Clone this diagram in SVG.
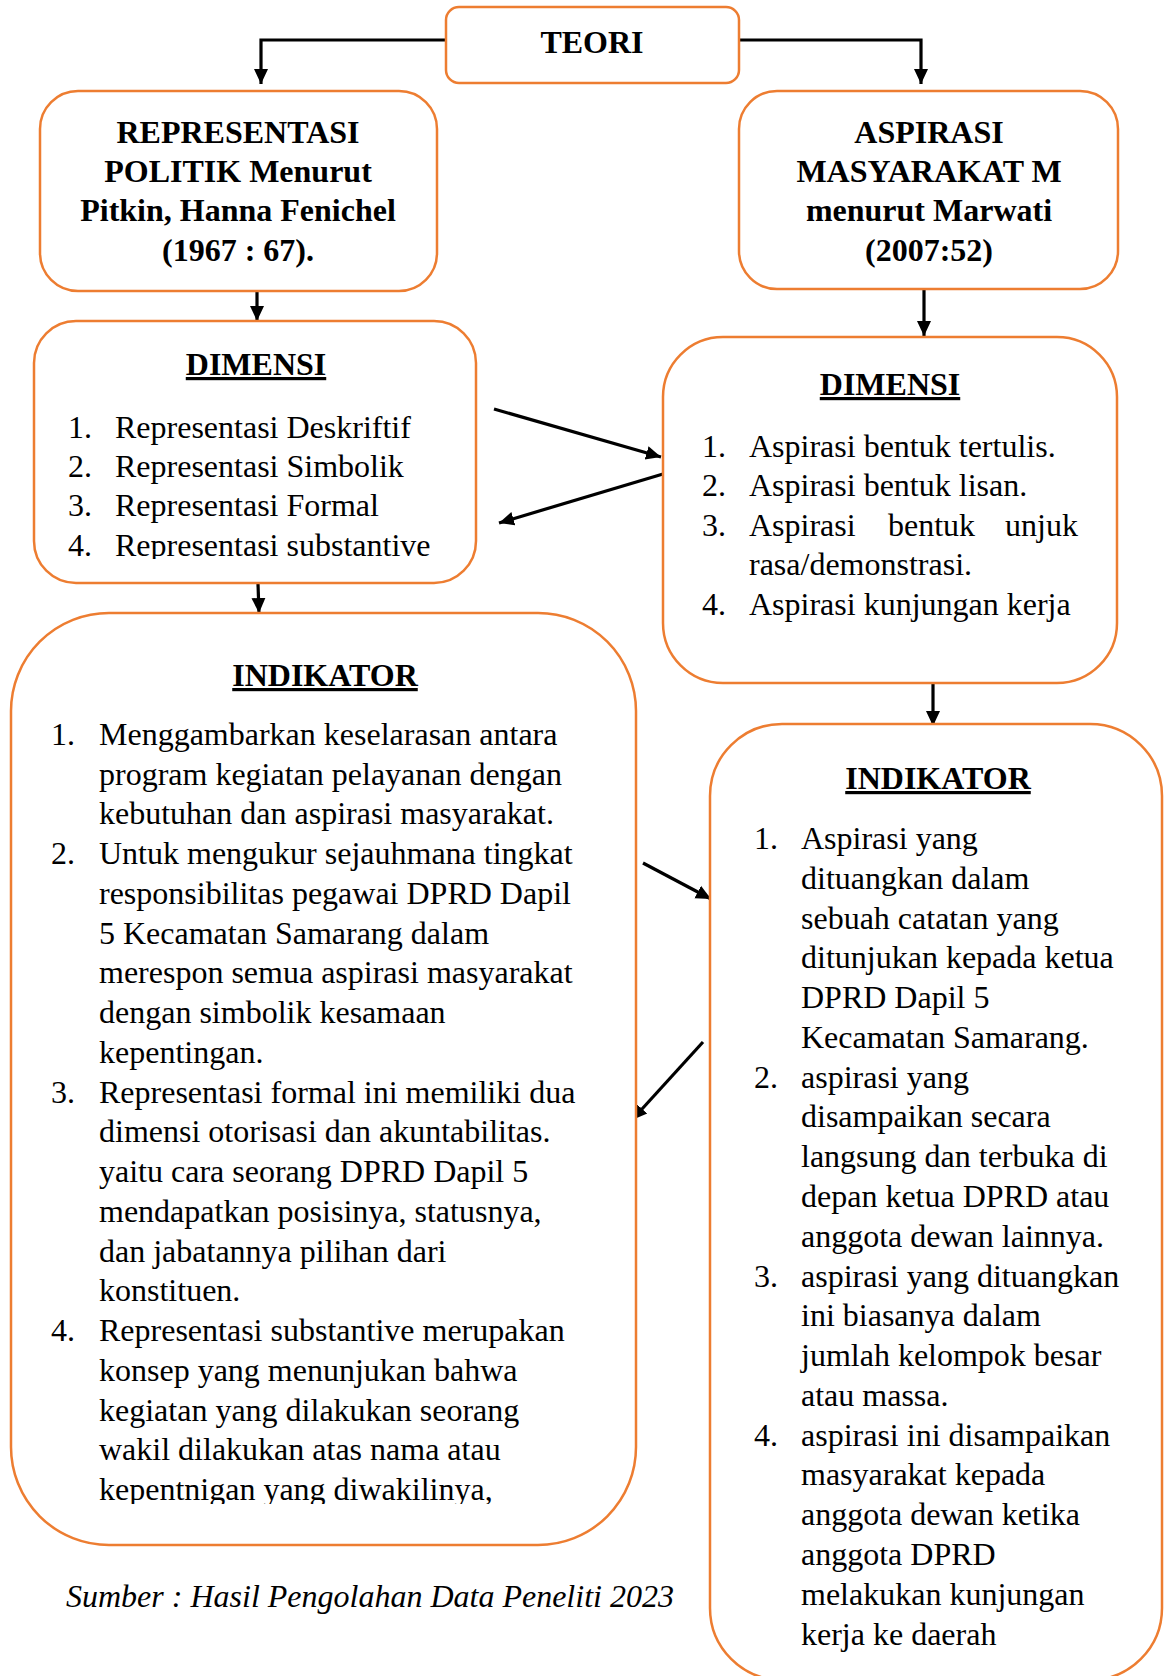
<svg xmlns="http://www.w3.org/2000/svg" width="1164" height="1676" viewBox="0 0 1164 1676">
<defs>
<style>
.box{fill:#fff;stroke:#ED7D31;stroke-width:2.5}
.t{font-family:"Liberation Serif","Times New Roman",serif;font-size:32px;fill:#000}
.b{font-weight:bold}
.c{text-anchor:middle}
.u{text-decoration:underline}
.i{font-style:italic}
.con{fill:none;stroke:#000;stroke-width:3.2}
</style>
<marker id="ah" viewBox="0 0 16 16" refX="15" refY="8" markerWidth="16" markerHeight="16" markerUnits="userSpaceOnUse" orient="auto">
<path d="M0,1 L15,8 L0,15 z" fill="#000"/>
</marker>
<clipPath id="clipDimL"><rect x="34" y="321" width="442" height="238"/></clipPath>
<clipPath id="clipIndL"><rect x="11" y="613" width="625" height="891"/></clipPath>
</defs>
<rect width="1164" height="1676" fill="#fff"/>

<g id="connectors">
<path class="con" d="M446,40 H261 V84" marker-end="url(#ah)"/>
<path class="con" d="M739,40 H921 V84" marker-end="url(#ah)"/>
<path class="con" d="M257,291 V321" marker-end="url(#ah)"/>
<path class="con" d="M924,289 V336" marker-end="url(#ah)"/>
<path class="con" d="M494,409 L661,457" marker-end="url(#ah)"/>
<path class="con" d="M663,474 L499,523" marker-end="url(#ah)"/>
<path class="con" d="M258,584 L259,613" marker-end="url(#ah)"/>
<path class="con" d="M933,683 V726" marker-end="url(#ah)"/>
<path class="con" d="M643,863 L711,899" marker-end="url(#ah)"/>
<path class="con" d="M703,1042 L632,1120" marker-end="url(#ah)"/>
</g>

<g id="teori">
<rect class="box" x="446" y="7" width="293" height="76" rx="13"/>
<text class="t b c" x="592" y="53">TEORI</text>
</g>

<g id="representasi">
<rect class="box" x="40" y="91" width="397" height="200" rx="38"/>
<text class="t b c" x="238" y="143">REPRESENTASI</text>
<text class="t b c" x="238" y="182">POLITIK Menurut</text>
<text class="t b c" x="238" y="221">Pitkin, Hanna Fenichel</text>
<text class="t b c" x="238" y="261">(1967 : 67).</text>
</g>

<g id="aspirasi">
<rect class="box" x="739" y="91" width="379" height="198" rx="38"/>
<text class="t b c" x="929" y="143">ASPIRASI</text>
<text class="t b c" x="929" y="182">MASYARAKAT M</text>
<text class="t b c" x="929" y="221">menurut Marwati</text>
<text class="t b c" x="929" y="261">(2007:52)</text>
</g>

<g id="dimensi-left">
<rect class="box" x="34" y="321" width="442" height="262" rx="42"/>
<text class="t b c u" x="256" y="375">DIMENSI</text>
<g clip-path="url(#clipDimL)">
<text class="t" x="68" y="438">1.</text><text class="t" x="115" y="438">Representasi Deskriftif</text>
<text class="t" x="68" y="477">2.</text><text class="t" x="115" y="477">Representasi Simbolik</text>
<text class="t" x="68" y="516">3.</text><text class="t" x="115" y="516">Representasi Formal</text>
<text class="t" x="68" y="556">4.</text><text class="t" x="115" y="556">Representasi substantive</text>
</g>
</g>

<g id="dimensi-right">
<rect class="box" x="663" y="337" width="454" height="346" rx="60"/>
<text class="t b c u" x="890" y="395">DIMENSI</text>
<text class="t" x="702" y="457">1.</text><text class="t" x="749" y="457">Aspirasi bentuk tertulis.</text>
<text class="t" x="702" y="496">2.</text><text class="t" x="749" y="496">Aspirasi bentuk lisan.</text>
<text class="t" x="702" y="536">3.</text><text class="t" x="749" y="536">Aspirasi</text><text class="t" x="888" y="536">bentuk</text><text class="t" x="1078" y="536" text-anchor="end">unjuk</text>
<text class="t" x="749" y="575">rasa/demonstrasi.</text>
<text class="t" x="702" y="615">4.</text><text class="t" x="749" y="615">Aspirasi kunjungan kerja</text>
</g>

<g id="indikator-left">
<rect class="box" x="11" y="613" width="625" height="932" rx="98"/>
<text class="t b c u" x="325" y="686">INDIKATOR</text>
<g clip-path="url(#clipIndL)">
<text class="t" x="51" y="745">1.</text>
<text class="t" x="99" y="745">Menggambarkan keselarasan antara</text>
<text class="t" x="99" y="785">program kegiatan pelayanan dengan</text>
<text class="t" x="99" y="824">kebutuhan dan aspirasi masyarakat.</text>
<text class="t" x="51" y="864">2.</text>
<text class="t" x="99" y="864">Untuk mengukur sejauhmana tingkat</text>
<text class="t" x="99" y="904">responsibilitas pegawai DPRD Dapil</text>
<text class="t" x="99" y="944">5 Kecamatan Samarang dalam</text>
<text class="t" x="99" y="983">merespon semua aspirasi masyarakat</text>
<text class="t" x="99" y="1023">dengan simbolik kesamaan</text>
<text class="t" x="99" y="1063">kepentingan.</text>
<text class="t" x="51" y="1103">3.</text>
<text class="t" x="99" y="1103">Representasi formal ini memiliki dua</text>
<text class="t" x="99" y="1142">dimensi otorisasi dan akuntabilitas.</text>
<text class="t" x="99" y="1182">yaitu cara seorang DPRD Dapil 5</text>
<text class="t" x="99" y="1222">mendapatkan posisinya, statusnya,</text>
<text class="t" x="99" y="1262">dan jabatannya pilihan dari</text>
<text class="t" x="99" y="1301">konstituen.</text>
<text class="t" x="51" y="1341">4.</text>
<text class="t" x="99" y="1341">Representasi substantive merupakan</text>
<text class="t" x="99" y="1381">konsep yang menunjukan bahwa</text>
<text class="t" x="99" y="1421">kegiatan yang dilakukan seorang</text>
<text class="t" x="99" y="1460">wakil dilakukan atas nama atau</text>
<text class="t" x="99" y="1500">kepentnigan yang diwakilinya,</text>
</g>
</g>

<g id="indikator-right">
<rect class="box" x="710" y="724" width="452" height="956" rx="72"/>
<text class="t b c u" x="938" y="789">INDIKATOR</text>
<text class="t" x="754" y="849">1.</text>
<text class="t" x="801" y="849">Aspirasi yang</text>
<text class="t" x="801" y="889">dituangkan dalam</text>
<text class="t" x="801" y="929">sebuah catatan yang</text>
<text class="t" x="801" y="968">ditunjukan kepada ketua</text>
<text class="t" x="801" y="1008">DPRD Dapil 5</text>
<text class="t" x="801" y="1048">Kecamatan Samarang.</text>
<text class="t" x="754" y="1088">2.</text>
<text class="t" x="801" y="1088">aspirasi yang</text>
<text class="t" x="801" y="1127">disampaikan secara</text>
<text class="t" x="801" y="1167">langsung dan terbuka di</text>
<text class="t" x="801" y="1207">depan ketua DPRD atau</text>
<text class="t" x="801" y="1247">anggota dewan lainnya.</text>
<text class="t" x="754" y="1287">3.</text>
<text class="t" x="801" y="1287">aspirasi yang dituangkan</text>
<text class="t" x="801" y="1326">ini biasanya dalam</text>
<text class="t" x="801" y="1366">jumlah kelompok besar</text>
<text class="t" x="801" y="1406">atau massa.</text>
<text class="t" x="754" y="1446">4.</text>
<text class="t" x="801" y="1446">aspirasi ini disampaikan</text>
<text class="t" x="801" y="1485">masyarakat kepada</text>
<text class="t" x="801" y="1525">anggota dewan ketika</text>
<text class="t" x="801" y="1565">anggota DPRD</text>
<text class="t" x="801" y="1605">melakukan kunjungan</text>
<text class="t" x="801" y="1645">kerja ke daerah</text>
</g>

<g id="source">
<text class="t i" x="66" y="1607">Sumber : Hasil Pengolahan Data Peneliti 2023</text>
</g>
</svg>
